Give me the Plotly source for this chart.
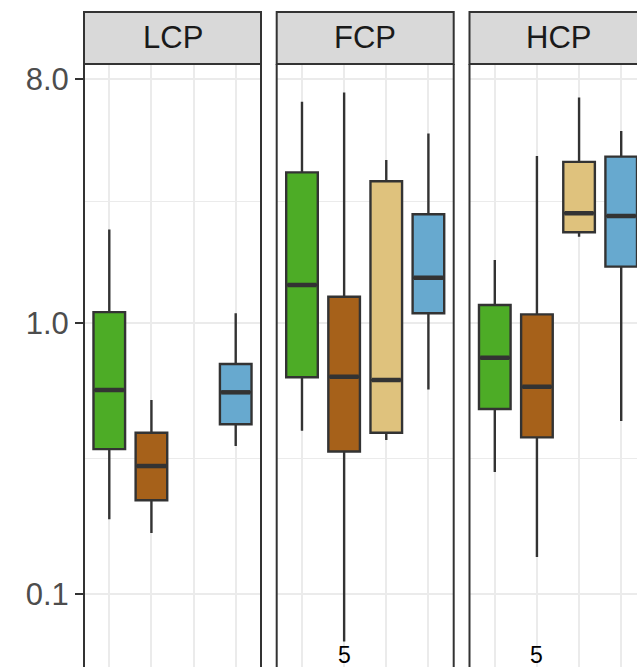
import math
import plotly.graph_objects as go

# ---------------- data ----------------
panels = ["LCP", "FCP", "HCP"]
groups = ["Group 1", "Group 2", "Group 3", "Group 4"]
colors = ["#4DAC26", "#A6611A", "#DFC27D", "#67A9CF"]

# box statistics per panel (rows) and group (columns); None = group absent
lower_whisker = [[0.189, 0.168, None, 0.352],
                 [0.401, 0.0667, 0.371, 0.570],
                 [0.282, 0.137, 2.09, 0.436]]
q1_vals = [[0.343, 0.222, None, 0.424],
           [0.632, 0.336, 0.394, 1.089],
           [0.4825, 0.379, 2.17, 1.62]]
median_vals = [[0.567, 0.297, None, 0.556],
               [1.385, 0.635, 0.617, 1.474],
               [0.746, 0.583, 2.55, 2.49]]
q3_vals = [[1.10, 0.394, None, 0.707],
           [3.61, 1.254, 3.35, 2.53],
           [1.168, 1.079, 3.95, 4.13]]
upper_whisker = [[2.22, 0.521, None, 1.089],
                 [6.59, 7.13, 4.01, 5.03],
                 [1.713, 4.15, 6.82, 5.13]]

# count labels (panel, group index, y position, text)
label_panels = ["FCP", "HCP"]
label_groups = [2, 2]
label_y = [0.0595, 0.0595]
label_text = ["5", "5"]

y_tickvals = [0.1, 1.0, 8.0]
y_ticktext = ["0.1", "1.0", "8.0"]
y_minor = [0.316, 2.83]

# ---------------- layout geometry ----------------
W, H = 637, 667
ML, MT = 84, 64
plot_w = W - ML
plot_h = H - MT
panel_px = [(84.0, 261.0), (276.7, 453.7), (469.5, 646.5)]
px_per_unit = 177.0 / 4.2
box_w = 0.75
y_range = [-1.2697, 0.958]
FONT = "Liberation Sans, Arial, Helvetica"

def fx(p):
    return (p - ML) / plot_w

def fy(p):
    return (H - p) / plot_h

fig = go.Figure()
BORDER = "#333333"

for pi, name in enumerate(panels):
    xa = "x" if pi == 0 else f"x{pi+1}"
    ya = "y" if pi == 0 else f"y{pi+1}"
    for gi in range(len(groups)):
        if median_vals[pi][gi] is None:
            continue
        pos = gi + 1
        fig.add_trace(go.Box(
            x=[pos], q1=[q1_vals[pi][gi]], median=[median_vals[pi][gi]],
            q3=[q3_vals[pi][gi]], lowerfence=[lower_whisker[pi][gi]],
            upperfence=[upper_whisker[pi][gi]], width=box_w,
            fillcolor=colors[gi], line=dict(color=BORDER, width=2.4),
            whiskerwidth=0, name=groups[gi], showlegend=False,
            hoverinfo="skip", xaxis=xa, yaxis=ya))
        # thicker median bar (ggplot style)
        fig.add_trace(go.Scatter(
            x=[pos - box_w / 2 + 0.03, pos + box_w / 2 - 0.03],
            y=[median_vals[pi][gi]] * 2, mode="lines",
            line=dict(color=BORDER, width=4.5), showlegend=False,
            hoverinfo="skip", xaxis=xa, yaxis=ya))

    x0p, x1p = panel_px[pi]
    d0 = fx(x0p)
    d1 = min(1.0, fx(x1p))
    xr1 = 0.4 + (min(x1p, W) - x0p) / px_per_unit
    xkey = "xaxis" if pi == 0 else f"xaxis{pi+1}"
    ykey = "yaxis" if pi == 0 else f"yaxis{pi+1}"
    fig.layout[xkey] = dict(domain=[d0, d1], range=[0.4, xr1], anchor=ya,
                            tickvals=[1, 2, 3, 4], showticklabels=False, ticks="",
                            showgrid=True, gridcolor="#EBEBEB", gridwidth=2,
                            zeroline=False, showline=False, fixedrange=True)
    ydict = dict(type="log", range=y_range, anchor=xa, domain=[0, 1],
                 tickvals=y_tickvals, ticktext=y_ticktext,
                 showgrid=True, gridcolor="#EBEBEB", gridwidth=2,
                 minor=dict(tickvals=y_minor, showgrid=True, gridcolor="#EBEBEB",
                            gridwidth=1, ticks=""),
                 zeroline=False, showline=False, fixedrange=True)
    if pi == 0:
        ydict.update(showticklabels=True, ticks="outside", ticklen=8, tickwidth=2,
                     tickcolor=BORDER,
                     tickfont=dict(family=FONT, size=31, color="#4D4D4D"))
    else:
        ydict.update(showticklabels=False, ticks="")
    fig.layout[ykey] = ydict

    # panel borders (left and right only; bottom is outside the view)
    fig.add_shape(type="line", xref="paper", yref="paper", x0=fx(x0p), x1=fx(x0p),
                  y0=-0.01, y1=1, line=dict(color=BORDER, width=2))
    if x1p < W:
        fig.add_shape(type="line", xref="paper", yref="paper", x0=fx(x1p), x1=fx(x1p),
                      y0=-0.01, y1=1, line=dict(color=BORDER, width=2))
    # strip
    fig.add_shape(type="rect", xref="paper", yref="paper", x0=fx(x0p), x1=fx(x1p),
                  y0=fy(64), y1=fy(12), fillcolor="#D9D9D9",
                  line=dict(color=BORDER, width=2))
    fig.add_annotation(xref="paper", yref="paper", x=(fx(x0p) + fx(x1p)) / 2,
                       y=fy(38), text=name, showarrow=False,
                       font=dict(family=FONT, size=31, color="#1A1A1A"),
                       xanchor="center", yanchor="middle")

for lp, lg, ly, lt in zip(label_panels, label_groups, label_y, label_text):
    pi = panels.index(lp)
    xa = "x" if pi == 0 else f"x{pi+1}"
    ya = "y" if pi == 0 else f"y{pi+1}"
    fig.add_annotation(x=lg, y=math.log10(ly), xref=xa, yref=ya, text=lt,
                       showarrow=False, xanchor="center", yanchor="middle",
                       font=dict(family=FONT, size=23, color="#000000"))

fig.update_layout(width=W, height=H, margin=dict(l=ML, r=0, t=MT, b=0, pad=0),
                  paper_bgcolor="white", plot_bgcolor="white", showlegend=False,
                  boxmode="overlay")

fig.write_html("out.html", config={"displayModeBar": False, "staticPlot": True},
               post_script="document.body.style.margin='0px';document.body.style.overflow='hidden';")
